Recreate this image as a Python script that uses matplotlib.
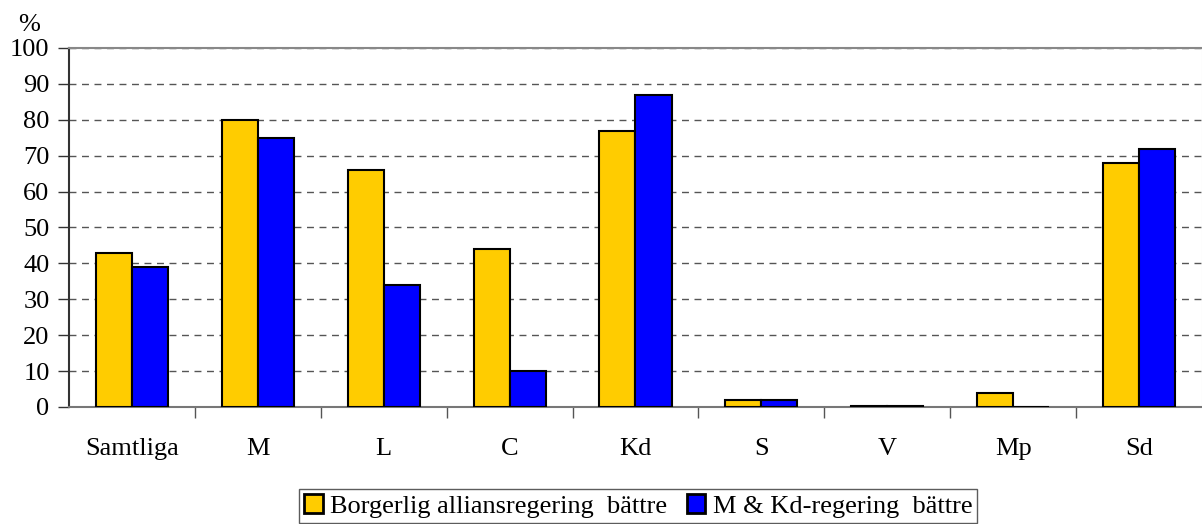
import numpy as np
import matplotlib.pyplot as plt

categories = ["Samtliga", "M", "L", "C", "Kd", "S", "V", "Mp", "Sd"]
borgerlig = [43, 80, 66, 44, 77, 2, 0.3, 4, 68]
m_kd = [39, 75, 34, 10, 87, 2, 0.3, 0, 72]
yticks = list(range(0, 101, 10))

plt.rcParams['font.family'] = ['Liberation Serif', 'DejaVu Serif']

fig = plt.figure(figsize=(12.02, 5.24), dpi=100)
ax = fig.add_axes([0.0574, 0.2233, 0.9426, 0.6851])

x = np.arange(len(categories))
w = 0.286
ax.bar(x - w / 2, borgerlig, w, color='#FFCC00', edgecolor='black', linewidth=1.5,
       label='Borgerlig alliansregering  bättre', zorder=3)
ax.bar(x + w / 2, m_kd, w, color='#0000FF', edgecolor='black', linewidth=1.5,
       label='M & Kd-regering  bättre', zorder=3)

ax.set_xlim(-0.5, len(categories) - 0.5)
ax.set_ylim(0, 100)
ax.set_yticks(yticks)
ax.tick_params(axis='y', labelsize=19, length=8, width=1, color='#333333',
               direction='out', pad=6)
ax.set_xticks(x)
ax.set_xticklabels(categories)
ax.tick_params(axis='x', which='major', length=0, labelsize=19, pad=22)
ax.set_xticks(np.arange(0.5, len(categories) - 1, 1), minor=True)
ax.tick_params(axis='x', which='minor', length=8, width=1, color='#555555', direction='out')

ax.yaxis.grid(True, linestyle=(0, (5, 4)), color='#555555', linewidth=1, zorder=0)
ax.spines['top'].set_color('#888888')
ax.spines['top'].set_linewidth(1.5)
ax.spines['right'].set_color('#dddddd')
ax.spines['left'].set_color('#333333')
ax.spines['left'].set_linewidth(1.5)
ax.spines['bottom'].set_color('#777777')
ax.spines['bottom'].set_linewidth(1.5)

fig.text(0.015, 0.94, '%', fontsize=19)

leg = fig.legend(loc='lower center', bbox_to_anchor=(0.531, 0.002), ncol=2, fontsize=19,
                 frameon=True, fancybox=False, edgecolor='#333333', handlelength=0.7,
                 handleheight=0.7, handletextpad=0.27, columnspacing=0.75, borderpad=0.2,
                 borderaxespad=0)
leg.get_frame().set_linewidth(1)
for patch in leg.get_patches():
    patch.set_linewidth(2)

fig.savefig('out.png', dpi=100)
